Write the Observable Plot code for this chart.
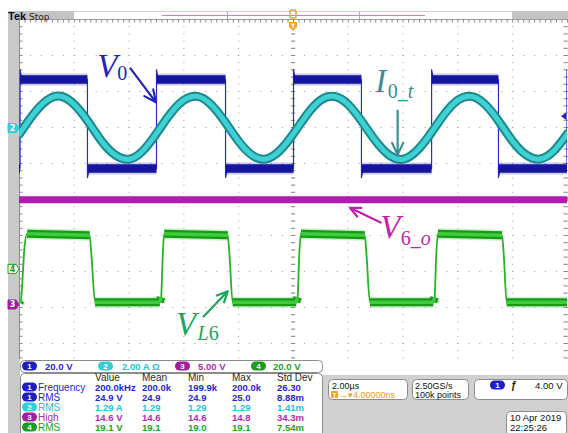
<!DOCTYPE html>
<html>
<head>
<meta charset="utf-8">
<script src="https://cdn.jsdelivr.net/npm/d3@7"></script>
<script src="https://cdn.jsdelivr.net/npm/@observablehq/plot@0.6"></script>
<style>
  body { margin: 0; background: #fff; }
  #wrap { position: relative; width: 568px; height: 433px; overflow: hidden; }
  #wrap svg { display: block; }
</style>
</head>
<body>
<div id="wrap"></div>
<script>
// ---------------- DATA ----------------
// Horizontal: 2.00 µs/div, 10 divisions, trigger at centre
const timeDomainUs = [-10, 10];

// Channel settings (scale per division, ground position in divisions from centre)
const ch1Scale = 20.0, ch1Ground = 2.10;   // V/div
const ch2Scale = 2.00, ch2Ground = 1.97;   // A/div
const ch3Scale = 5.00, ch3Ground = -2.93;  // V/div
const ch4Scale = 20.0, ch4Ground = -1.94;  // V/div
const trigLevelV = 4.00;

// CH1  V0 : square wave edges (µs) and the level after each edge (V)
const v0Initial = -24.8;
const v0EdgeTimes = [-9.98, -7.52, -5.00, -2.48, 0.00, 2.48, 5.04, 7.48, 9.98];
const v0LevelAfter = [24.6, -24.8, 24.6, -24.8, 24.6, -24.8, 24.6, -24.8, 24.6];
const v0Overshoot = [5.5, -5.0, 5.5, -5.0, 5.5, -5.0, 5.5, -5.0, 5.5];

// CH2  I0_t : current samples every 0.5 µs (A)
const i0Times = [-10, -9.5, -9, -8.5, -8, -7.5, -7, -6.5, -6, -5.5,
                 -5, -4.5, -4, -3.5, -3, -2.5, -2, -1.5, -1, -0.5,
                 0, 0.5, 1, 1.5, 2, 2.5, 3, 3.5, 4, 4.5,
                 5, 5.5, 6, 6.5, 7, 7.5, 8, 8.5, 9, 9.5, 10];
const i0Amps = [-0.30, 0.78, 1.57, 1.80, 1.34, 0.40, -0.70, -1.47, -1.70, -1.24,
                -0.27, 0.81, 1.58, 1.79, 1.32, 0.37, -0.71, -1.49, -1.69, -1.22,
                -0.28, 0.80, 1.59, 1.78, 1.33, 0.38, -0.69, -1.48, -1.70, -1.23,
                -0.29, 0.79, 1.58, 1.79, 1.33, 0.39, -0.70, -1.47, -1.69, -1.24, -0.28];

// CH3  V6_o : DC level (V)
const v6oTimes = [-10, 10];
const v6oVolts = [14.6, 14.6];

// CH4  VL6 : vertices (µs, V)
const vl6Times = [-10, -9.95, -9.90, -9.82, -9.72, -7.44, -7.38, -7.24,
                  -4.88, -4.83, -4.77, -4.72, -2.40, -2.34, -2.22,
                  0.10, 0.15, 0.21, 0.27, 2.60, 2.66, 2.79,
                  5.10, 5.15, 5.21, 5.27, 7.61, 7.67, 7.78, 10];
const vl6Volts = [-18.3, -17.2, -8.0, 12.0, 19.8, 18.9, 9.0, -18.3,
                  -18.3, -15.5, 8.0, 19.8, 18.9, 9.0, -18.3,
                  -18.3, -15.5, 8.0, 19.8, 18.9, 9.0, -18.3,
                  -18.3, -15.5, 8.0, 19.8, 18.9, 9.0, -18.3, -18.3];

// Readout panel text
const chanScaleLabels = ["20.0 V", "2.00 A \u03A9", "5.00 V", "20.0 V"];
const measureHeaders = ["Value", "Mean", "Min", "Max", "Std Dev"];
const measureChannels = [1, 1, 2, 3, 4];
const measureNames = ["Frequency", "RMS", "RMS", "High", "RMS"];
const measureValue = ["200.0kHz", "24.9 V", "1.29 A", "14.6 V", "19.1 V"];
const measureMean = ["200.0k", "24.9", "1.29", "14.6", "19.1"];
const measureMin = ["199.9k", "24.9", "1.29", "14.6", "19.0"];
const measureMax = ["200.0k", "25.0", "1.29", "14.8", "19.1"];
const measureStd = ["26.30", "8.88m", "1.41m", "34.3m", "7.54m"];
const timebaseText = ["2.00\u00B5s", "\u2192\u25BE4.00000ns"];
const sampleText = ["2.50GS/s", "100k points"];
const triggerText = "4.00 V";
const dateText = ["10 Apr 2019", "22:25:26"];

// ---------------- STYLE ----------------
const C1 = {trace: "#15159f", edge: "#2b2bc4", text: "#2626cf", pill: "#1e1ec2"};
const C2 = {outer: "#1c8a8c", inner: "#3fd0d4", text: "#25c3d3", pill: "#33cdd8"};
const C3 = {trace: "#b11bb1", text: "#ae2aae", pill: "#9d209d"};
const C4 = {outer: "#189a18", inner: "#3ccc3c", edge: "#25b425", text: "#23a123", pill: "#1f9a1f"};
const chs = [
  {scale: ch1Scale, ground: ch1Ground},
  {scale: ch2Scale, ground: ch2Ground},
  {scale: ch3Scale, ground: ch3Ground},
  {scale: ch4Scale, ground: ch4Ground}
];
const toDiv = (k, v) => chs[k].ground + v / chs[k].scale;

// ---------------- BUILD TABLES ----------------
const v0Pts = [{t: -10.2, v: v0Initial}];
const v0Segs = [{t: -10.2, v: v0Initial, s: -1}, {t: v0EdgeTimes[0], v: v0Initial, s: -1}];
v0EdgeTimes.forEach((te, i) => {
  const prev = i === 0 ? v0Initial : v0LevelAfter[i - 1];
  const lvl = v0LevelAfter[i];
  v0Pts.push({t: te, v: prev}, {t: te, v: lvl + v0Overshoot[i]}, {t: te + 0.07, v: lvl});
  const tEnd = i + 1 < v0EdgeTimes.length ? v0EdgeTimes[i + 1] : 10.3;
  v0Segs.push({t: te, v: lvl, s: i}, {t: tEnd, v: lvl, s: i});
});
v0Pts.push({t: 10.3, v: v0LevelAfter[v0LevelAfter.length - 1]});

const i0Pts = i0Times.map((t, i) => ({t, a: i0Amps[i]}));
const v6oPts = v6oTimes.map((t, i) => ({t, v: v6oVolts[i]}));
const vl6Pts = vl6Times.map((t, i) => ({t, v: vl6Volts[i]}));
const vl6Flat = [];
for (let i = 0; i + 1 < vl6Pts.length; i++) {
  if (Math.abs(vl6Pts[i + 1].v - vl6Pts[i].v) < 3) {
    vl6Flat.push({...vl6Pts[i], s: i}, {...vl6Pts[i + 1], s: i});
  }
}

// graticule tick positions
const minorY = d3.range(-22, 26).map(k => k * 0.2);
const minorX = d3.range(-50, 51).map(k => k * 0.2);
const gridX = [-8, -6, -4, -2, 2, 4, 6, 8];
const gridY = [-4, -3, -2, -1, 1, 2, 3, 4];

// annotations (positions in µs / divisions)
const annoArrows = [
  {x1: -5.95, y1: 3.64, x2: -5.02, y2: 2.70, color: "#2424b6"},
  {x1: 3.80, y1: 2.47, x2: 3.80, y2: 1.24, color: "#3a8e96"},
  {x1: 3.18, y1: -0.64, x2: 2.06, y2: -0.23, color: "#c21fae"},
  {x1: -3.28, y1: -3.25, x2: -2.40, y2: -2.55, color: "#1fa35a"}
];
const annoTexts = [
  {x: -7.14, y: 3.39, main: "V", sub: [["0", false]], subDx: 20, subDy: 3, color: "#2424b6"},
  {x: 3.00, y: 2.97, main: "I", sub: [["0", false], ["_t", true]], subDx: 12.5, subDy: 6, color: "#3a8e96"},
  {x: 3.18, y: -1.08, main: "V", sub: [["6", false], ["_o", true]], subDx: 20.5, subDy: 7, color: "#c21fae"},
  {x: -4.27, y: -3.78, main: "V", sub: [["L", true], ["6", false]], subDx: 21.5, subDy: 5, color: "#1fa35a"}
];

// ---------------- PLOT ----------------
const gridColor = "#9c9c9c";
const chart = Plot.plot({
  width: 568, height: 359,
  marginLeft: 19, marginRight: 1, marginTop: 19, marginBottom: 0,
  x: {domain: timeDomainUs, axis: null},
  y: {domain: [-4.444, 5], axis: null},
  style: {background: "white", overflow: "visible"},
  marks: [
    // dotted graticule
    Plot.ruleX(gridX, {stroke: gridColor, strokeDasharray: "1,6.2", strokeWidth: 1}),
    Plot.ruleY(gridY, {stroke: gridColor, strokeDasharray: "1,9.96", strokeWidth: 1}),
    Plot.ruleX([0], {stroke: gridColor, strokeDasharray: "1,6.2"}),
    Plot.ruleY([0], {stroke: gridColor, strokeDasharray: "1,9.96"}),
    // centre ticks
    Plot.ruleY(minorY, {y: d => d, x1: -0.08, x2: 0.08, stroke: "#8a8a8a"}),
    Plot.ruleX(minorX, {x: d => d, y1: -0.06, y2: 0.06, stroke: "#8a8a8a"}),
    // edge ticks
    Plot.ruleY(minorY, {y: d => d, x1: -10, x2: -9.87, stroke: "#8a8a8a"}),
    Plot.ruleY(minorY, {y: d => d, x1: 9.87, x2: 10, stroke: "#8a8a8a"}),
    Plot.ruleX(minorX, {x: d => d, y1: 5, y2: 4.9, stroke: "#8a8a8a"}),
    // frame edges
    Plot.ruleX([-10], {stroke: "#8a8a8a"}),
    Plot.ruleX([10], {stroke: gridColor, strokeDasharray: "1,6.2"}),
    Plot.ruleY([5], {stroke: "#9a9a9a"}),

    // CH3 magenta DC
    Plot.line(v6oPts, {x: "t", y: d => toDiv(2, d.v), stroke: C3.trace, strokeWidth: 7, clip: true}),

    // CH4 green
    Plot.line(vl6Flat, {x: "t", y: d => toDiv(3, d.v), z: "s", stroke: "#5fd25f", strokeOpacity: 0.35, strokeWidth: 11, strokeLinecap: "butt", clip: true}),
    Plot.line(vl6Pts, {x: "t", y: d => toDiv(3, d.v), stroke: C4.edge, strokeWidth: 1.8, curve: "monotone-x", clip: true}),
    Plot.line(vl6Flat, {x: "t", y: d => toDiv(3, d.v), z: "s", stroke: C4.outer, strokeWidth: 8, strokeLinecap: "butt", clip: true}),
    Plot.line(vl6Flat, {x: "t", y: d => toDiv(3, d.v), z: "s", stroke: C4.inner, strokeWidth: 3.5, strokeLinecap: "butt", clip: true}),

    // CH1 blue
    Plot.line(v0Segs, {x: "t", y: d => toDiv(0, d.v), z: "s", stroke: "#5050c8", strokeOpacity: 0.3, strokeWidth: 12, strokeLinecap: "butt", clip: true}),
    Plot.line(v0Pts, {x: "t", y: d => toDiv(0, d.v), stroke: C1.edge, strokeWidth: 1.2, clip: true}),
    Plot.line(v0Segs, {x: "t", y: d => toDiv(0, d.v), z: "s", stroke: C1.trace, strokeWidth: 8.5, strokeLinecap: "butt", clip: true}),

    // CH2 cyan
    Plot.line(i0Pts, {x: "t", y: d => toDiv(1, d.a), stroke: C2.outer, strokeWidth: 9, curve: "natural", clip: true}),
    Plot.line(i0Pts, {x: "t", y: d => toDiv(1, d.a), stroke: C2.inner, strokeWidth: 5, curve: "natural", clip: true}),

    // annotation arrows
    Plot.arrow(annoArrows, {x1: "x1", y1: "y1", x2: "x2", y2: "y2", stroke: d => d.color, strokeWidth: 2.2, headLength: 9, headAngle: 50})
  ]
});

const wrap = d3.select("#wrap");
wrap.node().appendChild(chart);
const svg = d3.select(chart);
const sx = chart.scale("x"), sy = chart.scale("y");

// annotation labels
annoTexts.forEach(a => {
  const px = sx.apply(a.x), py = sy.apply(a.y);
  svg.append("text").attr("x", px).attr("y", py)
    .attr("fill", a.color).attr("text-anchor", "start")
    .attr("font-family", "'Liberation Serif', 'DejaVu Serif', serif")
    .attr("font-size", 33).attr("font-style", "italic").text(a.main);
  const sub = svg.append("text").attr("x", px + a.subDx).attr("y", py + a.subDy)
    .attr("fill", a.color).attr("text-anchor", "start")
    .attr("font-family", "'Liberation Serif', 'DejaVu Serif', serif")
    .attr("font-size", 20);
  a.sub.forEach(([s, it]) => sub.append("tspan").attr("font-style", it ? "italic" : "normal").text(s));
});

// top status bar
const bar = svg.append("g").attr("text-anchor", "start");
bar.append("rect").attr("x", 8).attr("y", 11).attr("width", 11).attr("height", 348).attr("fill", "#c9c9c9");
bar.append("rect").attr("x", 8).attr("y", 11).attr("width", 66).attr("height", 8).attr("fill", "#c4c4c4");
bar.append("line").attr("x1", 74).attr("x2", 512).attr("y1", 11.5).attr("y2", 11.5).attr("stroke", "#cfcfcf");
bar.append("line").attr("x1", 162).attr("x2", 425).attr("y1", 15.5).attr("y2", 15.5).attr("stroke", "#d57ad5");
[227, 359].forEach(x => bar.append("line").attr("x1", x + 0.5).attr("x2", x + 0.5).attr("y1", 12).attr("y2", 19).attr("stroke", "#a9a9a9"));
bar.append("rect").attr("x", 512).attr("y", 11).attr("width", 56).attr("height", 8).attr("fill", "#c4c4c4");
bar.append("text").attr("x", 8).attr("y", 20).attr("font-family", "'Liberation Sans', Arial, sans-serif").attr("font-weight", "bold").attr("font-size", 11).attr("fill", "#111").text("Tek");
bar.append("text").attr("x", 29).attr("y", 19.5).attr("font-family", "'DejaVu Sans', sans-serif").attr("font-size", 9).attr("fill", "#222").text("Stop");
// trigger position markers
const tx = sx.apply(0);
bar.append("rect").attr("x", tx - 3).attr("y", 10).attr("width", 6).attr("height", 8).attr("rx", 1.5).attr("fill", "none").attr("stroke", "#f2a22c").attr("stroke-width", 1.5);
bar.append("path").attr("d", `M${tx - 4},22 h8 v5 l-4,4 l-4,-4 z`).attr("fill", "#f2a22c");
bar.append("text").attr("x", tx).attr("y", 27.5).attr("text-anchor", "middle").attr("font-family", "'DejaVu Sans', sans-serif").attr("font-size", 6).attr("font-weight", "bold").attr("fill", "#fff").text("T");

// channel ground markers on the left
const markers = [
  {k: 1, label: "2", fill: C2.pill, stroke: C2.pill, color: "#fff"},
  {k: 3, label: "4", fill: "#fff", stroke: C4.pill, color: C4.pill},
  {k: 2, label: "3", fill: C3.pill, stroke: C3.pill, color: "#fff"}
];
markers.forEach(m => {
  const y = sy.apply(chs[m.k].ground);
  bar.append("path").attr("d", `M8,${y - 4.5} h8 l3,4.5 l-3,4.5 h-8 z`).attr("fill", m.fill).attr("stroke", m.stroke).attr("stroke-width", 1);
  bar.append("text").attr("x", 12.5).attr("y", y + 3).attr("text-anchor", "middle").attr("font-family", "'DejaVu Sans', sans-serif").attr("font-size", 8).attr("font-weight", "bold").attr("fill", m.color).text(m.label);
});
// trigger level arrow on right (CH1)
const trigY = sy.apply(toDiv(0, trigLevelV));
bar.append("path").attr("d", `M561,${trigY} l5,-3.5 v7 z`).attr("fill", C1.pill);

// ---------------- READOUT PANEL ----------------
const panel = wrap.append("svg").attr("width", 568).attr("height", 74)
  .attr("font-family", "'Liberation Sans', Arial, sans-serif").attr("text-anchor", "start");
const Y0 = 359; // page y of panel top
const py = y => y - Y0;
panel.append("rect").attr("width", 568).attr("height", 74).attr("fill", "#fff");
panel.append("rect").attr("x", 8).attr("y", 0).attr("width", 12).attr("height", 74).attr("fill", "#c9c9c9");
panel.append("rect").attr("x", 322).attr("y", py(375)).attr("width", 246).attr("height", 74).attr("fill", "#d0d0d0");

const box = (x, y, w, h) => panel.append("rect").attr("x", x + 0.5).attr("y", py(y) + 0.5).attr("width", w).attr("height", h)
  .attr("rx", 4).attr("fill", "#fff").attr("stroke", "#8c8c8c").attr("stroke-width", 1);
const pill = (cx, cy, color, label) => {
  panel.append("rect").attr("x", cx - 7.5).attr("y", py(cy) - 4.5).attr("width", 15).attr("height", 9).attr("rx", 4.5).attr("fill", color);
  panel.append("text").attr("x", cx).attr("y", py(cy) + 3).attr("text-anchor", "middle").attr("font-size", 8).attr("font-weight", "bold").attr("fill", "#fff").text(label);
};
const txt = (x, y, s, color, size, weight) => panel.append("text").attr("x", x).attr("y", py(y))
  .attr("fill", color).attr("font-size", size).attr("font-weight", weight || "normal").text(s);

// channel scale row
box(20, 360, 302, 12);
const pillColors = [C1.pill, C2.pill, C3.pill, C4.pill];
const textColors = [C1.text, C2.text, C3.text, C4.text];
const rowPillX = [29.5, 105.5, 182.5, 258.5];
const rowTextX = [45, 122, 198, 273];
chanScaleLabels.forEach((s, i) => {
  pill(rowPillX[i], 366, pillColors[i], String(i + 1));
  txt(rowTextX[i], 369.5, s, textColors[i], 9.5, "bold");
});

// measurement table
box(20, 373, 302, 70);
const colX = [95, 142, 188, 232, 277];
measureHeaders.forEach((h, i) => txt(colX[i], 380.5, h, "#2a2a2a", 10));
const rowY = [390.5, 400.5, 410.5, 420.5, 430.5];
measureNames.forEach((name, r) => {
  const c = measureChannels[r] - 1;
  pill(29.5, rowY[r] - 3.5, pillColors[c], String(c + 1));
  txt(38, rowY[r], name, textColors[c], 10);
  [measureValue, measureMean, measureMin, measureMax, measureStd].forEach((col, j) =>
    txt(colX[j], rowY[r], col[r], textColors[c], 9.5, "bold"));
});

// timebase box
box(328, 379, 79, 20);
txt(332, 388.5, timebaseText[0], "#111", 9);
panel.append("rect").attr("x", 331).attr("y", py(391)).attr("width", 7).attr("height", 7).attr("rx", 1).attr("fill", "#f2a22c");
panel.append("text").attr("x", 334.5).attr("y", py(397.5)).attr("text-anchor", "middle").attr("font-size", 6.5).attr("font-weight", "bold").attr("fill", "#fff").text("T");
txt(339, 398, timebaseText[1], "#ef9a1c", 9);

// sample rate box
box(412, 379, 56, 20);
txt(415, 388.5, sampleText[0], "#111", 9);
txt(415, 398, sampleText[1], "#111", 9);

// trigger box
box(474, 379, 93, 20);
pill(497.5, 385, C1.pill, "1");
txt(511, 389, "\u0192", "#111", 10, "bold");
txt(535, 389, triggerText, "#111", 9.5);

// date box
box(506, 411, 60, 24);
txt(510, 421, dateText[0], "#111", 9.5);
txt(510, 431, dateText[1], "#111", 9.5);
</script>
</body>
</html>
